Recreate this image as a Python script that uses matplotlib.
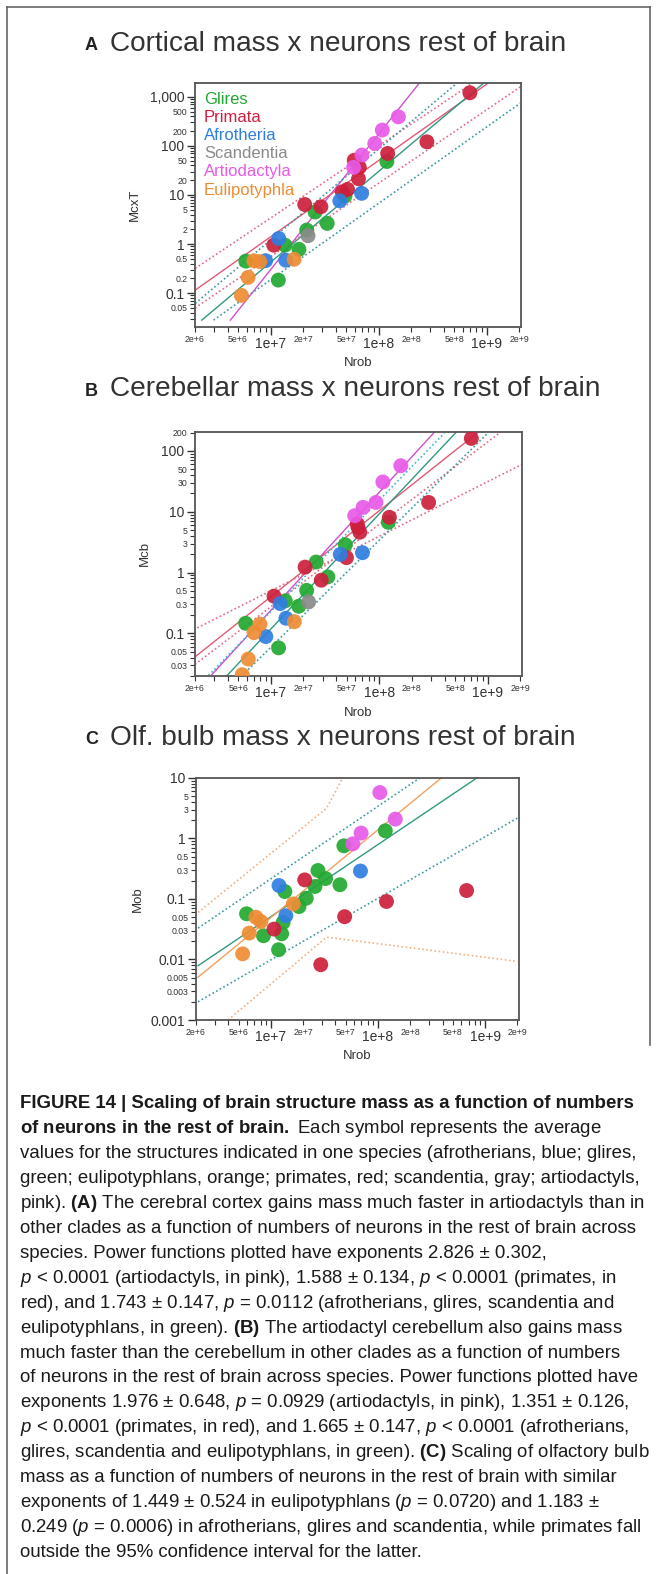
import numpy as np
import matplotlib.pyplot as plt
from matplotlib.lines import Line2D

plt.rcParams['font.family'] = ['Liberation Sans', 'DejaVu Sans']
plt.rcParams['mathtext.fontset'] = 'custom'
plt.rcParams['mathtext.rm'] = 'Liberation Sans'
plt.rcParams['mathtext.it'] = 'Liberation Sans:italic'
plt.rcParams['mathtext.bf'] = 'Liberation Sans:bold'

W, H = 657, 1574

clades = ['Glires', 'Primata', 'Afrotheria', 'Scandentia', 'Artiodactyla', 'Eulipotyphla']
clade_colors = {'Glires': '#22a832', 'Primata': '#cc1f3c', 'Afrotheria': '#2f7ee0',
                'Scandentia': '#8a8a8a', 'Artiodactyla': '#e85ae8', 'Eulipotyphla': '#ee8c34'}

# ---- A: cortical mass (g) vs neurons rest of brain
ctx_nrob = {
    'Glires': [5.9e6, 1.18e7, 1.36e7, 1.83e7, 2.16e7, 2.58e7, 3.34e7, 4.87e7, 1.19e8],
    'Primata': [1.07e7, 2.07e7, 2.92e7, 4.6e7, 5.15e7, 5.94e7, 6.62e7, 6.5e7, 1.21e8, 2.79e8, 6.97e8],
    'Afrotheria': [1.19e7, 9.0e6, 1.38e7, 4.37e7, 6.95e7],
    'Scandentia': [2.22e7],
    'Artiodactyla': [5.86e7, 7.0e7, 9.2e7, 1.08e8, 1.52e8],
    'Eulipotyphla': [5.37e6, 6.2e6, 7.0e6, 7.94e6, 1.65e7],
}
ctx_mass = {
    'Glires': [0.45, 0.185, 0.95, 0.78, 1.93, 4.5, 2.64, 9.5, 48],
    'Primata': [0.95, 6.4, 5.75, 11.6, 13, 51, 36.5, 21.4, 70, 121, 1205],
    'Afrotheria': [1.3, 0.46, 0.47, 7.6, 10.8],
    'Scandentia': [1.48],
    'Artiodactyla': [36.5, 65, 112, 210, 390],
    'Eulipotyphla': [0.09, 0.21, 0.457, 0.44, 0.49],
}
ctx_lines = {
    'pink_fit': ([4.25e6, 2.39e8], [0.0283, 1928]),
    'red_fit': ([2.01e6, 1.03e9], [0.1156, 1900]),
    'green_fit': ([2.31e6, 9.27e8], [0.0283, 1862]),
    'red_ci_hi': ([2.01e6, 7.4e8], [0.32, 1900]),
    'red_ci_lo': ([2.0e6, 2.04e9], [0.05, 1585]),
    'green_ci_hi': ([2.01e6, 5.25e8], [0.062, 1862]),
    'green_ci_lo': ([2.97e6, 2.04e9], [0.0283, 741]),
}

# ---- B: cerebellar mass
cb_nrob = {
    'Glires': [5.86e6, 1.18e7, 1.36e7, 1.81e7, 2.14e7, 2.62e7, 3.36e7, 4.87e7, 1.21e8],
    'Primata': [1.07e7, 2.07e7, 2.92e7, 4.98e7, 6.38e7, 6.62e7, 6.27e7, 1.24e8, 2.85e8, 7.06e8],
    'Afrotheria': [1.22e7, 9.0e6, 1.38e7, 4.37e7, 7.0e7],
    'Scandentia': [2.23e7],
    'Artiodactyla': [5.94e7, 7.1e7, 9.33e7, 1.08e8, 1.58e8],
    'Eulipotyphla': [5.45e6, 6.2e6, 7.0e6, 7.94e6, 1.65e7],
}
cb_mass = {
    'Glires': [0.147, 0.058, 0.344, 0.28, 0.51, 1.49, 0.85, 2.86, 6.7],
    'Primata': [0.41, 1.23, 0.75, 1.76, 5.5, 4.6, 6.3, 8.1, 14.2, 160],
    'Afrotheria': [0.31, 0.089, 0.178, 1.99, 2.12],
    'Scandentia': [0.33],
    'Artiodactyla': [8.6, 11.8, 14.2, 30.8, 57],
    'Eulipotyphla': [0.021, 0.038, 0.103, 0.142, 0.156],
}
cb_lines = {
    'pink_fit': ([2.86e6, 3.18e8], [0.0211, 197]),
    'red_fit': ([1.94e6, 8.1e8], [0.0395, 200]),
    'green_fit': ([3.95e6, 5.05e8], [0.0204, 197]),
    'red_ci_hi': ([1.94e6, 2.07e9], [0.115, 60]),
    'red_ci_lo': ([2.0e6, 1.3e9], [0.031, 200]),
    'cyan_ci': ([2.67e6, 3.98e8], [0.0204, 195]),
    'green_ci_lo': ([5.45e6, 1.0e9], [0.0204, 195]),
}

# ---- C: olfactory bulb mass
ob_nrob = {
    'Glires': [5.93e6, 8.53e6, 1.18e7, 1.26e7, 1.3e7, 1.35e7, 1.83e7, 2.14e7, 2.58e7, 2.75e7, 3.24e7, 4.41e7, 4.8e7, 1.17e8],
    'Primata': [2.07e7, 1.07e7, 2.92e7, 4.88e7, 1.2e8, 6.71e8],
    'Afrotheria': [1.19e7, 1.38e7, 6.86e7],
    'Scandentia': [],
    'Artiodactyla': [1.04e8, 1.45e8, 6.95e7, 5.82e7],
    'Eulipotyphla': [5.45e6, 6.28e6, 7.24e6, 8.07e6, 1.62e7],
}
ob_mass = {
    'Glires': [0.057, 0.0247, 0.0145, 0.0266, 0.041, 0.133, 0.075, 0.103, 0.161, 0.296, 0.218, 0.172, 0.757, 1.34],
    'Primata': [0.207, 0.0318, 0.0082, 0.051, 0.091, 0.138],
    'Afrotheria': [0.167, 0.053, 0.29],
    'Scandentia': [],
    'Artiodactyla': [5.75, 2.09, 1.23, 0.817],
    'Eulipotyphla': [0.0124, 0.0273, 0.05, 0.0425, 0.083],
}
ob_lines = {
    'green_fit': ([2.09e6, 8.32e8], [0.0079, 9.95]),
    'orange_fit': ([2.09e6, 3.89e8], [0.0051, 10.0]),
    'green_ci_hi': ([2.09e6, 2.45e8], [0.033, 10.0]),
    'green_ci_lo': ([2.09e6, 2.0e9], [0.002, 2.17]),
    'orange_ci_hi': ([2.09e6, 3.31e7, 4.68e7], [0.06, 3.16, 10.0]),
    'orange_ci_lo': ([3.98e6, 3.31e7, 2.0e9], [0.001, 0.0234, 0.0093]),
}

line_styles = {
    'pink_fit': dict(color='#cf4fcf', ls='-', lw=1.0),
    'red_fit': dict(color='#e25a74', ls='-', lw=1.0),
    'green_fit': dict(color='#2f9a80', ls='-', lw=1.0),
    'orange_fit': dict(color='#f2a060', ls='-', lw=1.0),
    'red_ci_hi': dict(color='#e06a86', ls=(0, (1, 1.5)), lw=1.2),
    'red_ci_lo': dict(color='#e06a86', ls=(0, (1, 1.5)), lw=1.2),
    'green_ci_hi': dict(color='#3a9aa0', ls=(0, (1, 1.5)), lw=1.2),
    'green_ci_lo': dict(color='#3a9aa0', ls=(0, (1, 1.5)), lw=1.2),
    'cyan_ci': dict(color='#3fb4d6', ls=(0, (1, 1.5)), lw=1.2),
    'orange_ci_hi': dict(color='#f2b084', ls=(0, (1, 1.5)), lw=1.2),
    'orange_ci_lo': dict(color='#f2b084', ls=(0, (1, 1.5)), lw=1.2),
}

x_minor_labels = {2e6: '2e+6', 5e6: '5e+6', 2e7: '2e+7', 5e7: '5e+7',
                  2e8: '2e+8', 5e8: '5e+8', 2e9: '2e+9'}


def fx(px):
    return px / W


def fy(py):
    return 1 - py / H


def setup_axes(ax, ymin, ymax, ymajor, yminor_lab, ylabel, ylab_x):
    ax.set_xscale('log')
    ax.set_yscale('log')
    ax.set_xlim(2e6, 2.07e9)
    ax.set_ylim(ymin, ymax)
    # x ticks
    ax.set_xticks([1e7, 1e8, 1e9], ['1e+7', '1e+8', '1e+9'])
    xm = [m * 10 ** e for e in range(6, 10) for m in range(2, 10) if 2e6 <= m * 10 ** e <= 2.07e9]
    ax.set_xticks(xm, [x_minor_labels.get(v, '') for v in xm], minor=True)
    # y ticks
    ax.set_yticks(ymajor, [f'{v:,g}' for v in ymajor])
    e0, e1 = int(np.floor(np.log10(ymin))), int(np.ceil(np.log10(ymax)))
    ym = [m * 10.0 ** e for e in range(e0, e1 + 1) for m in range(2, 10)
          if ymin * 0.999 <= m * 10.0 ** e <= ymax * 1.001]
    labs = []
    for v in ym:
        lab = ''
        for t in yminor_lab:
            if abs(v - t) / t < 1e-6:
                lab = f'{t:,g}'
        labs.append(lab)
    ax.set_yticks(ym, labs, minor=True)
    ax.tick_params(which='major', direction='out', length=6, width=1.0, labelsize=10,
                   colors='#333333', pad=1.5)
    ax.tick_params(which='minor', direction='out', length=3.5, width=0.8, labelsize=6.3,
                   colors='#333333', pad=2)
    for sp in ax.spines.values():
        sp.set_color('#555555')
        sp.set_linewidth(1.3)
    ax.set_xlabel('Nrob', fontsize=9.5, color='#333333')
    ax.xaxis.set_label_coords(0.5, -0.125)
    ax.set_ylabel(ylabel, fontsize=9.5, color='#333333')
    ax.yaxis.set_label_coords(ylab_x, 0.5)


def draw_panel(ax, nrob, mass, lines):
    for name, (xs, ys) in lines.items():
        ax.plot(xs, ys, zorder=2, **line_styles[name])
    for c in clades:
        if nrob[c]:
            ax.scatter(nrob[c], mass[c], s=115, color=clade_colors[c], edgecolors='none',
                       alpha=0.92, zorder=3)


fig = plt.figure(figsize=(W / 100, H / 100), dpi=100)

axA = fig.add_axes([fx(195), fy(327), fx(521) - fx(195), (327 - 83) / H])
draw_panel(axA, ctx_nrob, ctx_mass, ctx_lines)
setup_axes(axA, 0.0205, 1905, [0.1, 1, 10, 100, 1000],
           [0.05, 0.2, 0.5, 2, 5, 20, 50, 200, 500, 2000], 'McxT', -0.165)

axB = fig.add_axes([fx(195), fy(676), fx(522) - fx(195), (676 - 432) / H])
draw_panel(axB, cb_nrob, cb_mass, cb_lines)
setup_axes(axB, 0.02, 204, [0.1, 1, 10, 100],
           [0.03, 0.05, 0.3, 0.5, 3, 5, 30, 50, 200], 'Mcb', -0.135)

axC = fig.add_axes([fx(196), fy(1020), fx(519) - fx(196), (1020 - 778) / H])
draw_panel(axC, ob_nrob, ob_mass, ob_lines)
setup_axes(axC, 0.001, 10, [0.001, 0.01, 0.1, 1, 10],
           [0.003, 0.005, 0.03, 0.05, 0.3, 0.5, 3, 5], 'Mob', -0.16)

# legend in panel A
for i, c in enumerate(clades):
    fig.text(fx(204), fy(99.5 + i * 18.1), c, fontsize=12, color=clade_colors[c],
             va='center', ha='left')

# panel titles
titles = [('A', 'Cortical mass x neurons rest of brain', 44),
          ('B', 'Cerebellar mass x neurons rest of brain', 389),
          ('C', 'Olf. bulb mass x neurons rest of brain', 738)]
for letter, t, yy in titles:
    fig.text(fx(85), fy(yy + 2), letter, fontsize=13, fontweight='bold', color='#222222',
             va='center', ha='left')
    fig.text(fx(110), fy(yy), t, fontsize=20.2, color='#333333', va='center', ha='left')


def bold(s):
    return r'$\mathbf{' + s.replace(' ', r'\ ') + '}$'


caption = [
    'FIGURE 14 | Scaling of brain structure mass as a function of numbers',
    bold('of neurons in the rest of brain.') + ' Each symbol represents the average',
    'values for the structures indicated in one species (afrotherians, blue; glires,',
    'green; eulipotyphlans, orange; primates, red; scandentia, gray; artiodactyls,',
    'pink). ' + bold('(A)') + ' The cerebral cortex gains mass much faster in artiodactyls than in',
    'other clades as a function of numbers of neurons in the rest of brain across',
    'species. Power functions plotted have exponents 2.826 ± 0.302,',
    '$p$ < 0.0001 (artiodactyls, in pink), 1.588 ± 0.134, $p$ < 0.0001 (primates, in',
    'red), and 1.743 ± 0.147, $p$ = 0.0112 (afrotherians, glires, scandentia and',
    'eulipotyphlans, in green). ' + bold('(B)') + ' The artiodactyl cerebellum also gains mass',
    'much faster than the cerebellum in other clades as a function of numbers',
    'of neurons in the rest of brain across species. Power functions plotted have',
    'exponents 1.976 ± 0.648, $p$ = 0.0929 (artiodactyls, in pink), 1.351 ± 0.126,',
    '$p$ < 0.0001 (primates, in red), and 1.665 ± 0.147, $p$ < 0.0001 (afrotherians,',
    'glires, scandentia and eulipotyphlans, in green). ' + bold('(C)') + ' Scaling of olfactory bulb',
    'mass as a function of numbers of neurons in the rest of brain with similar',
    'exponents of 1.449 ± 0.524 in eulipotyphlans ($p$ = 0.0720) and 1.183 ±',
    '0.249 ($p$ = 0.0006) in afrotherians, glires and scandentia, while primates fall',
    'outside the 95% confidence interval for the latter.',
]
cap_texts = []
for i, line in enumerate(caption):
    t = fig.text(fx(20), fy(1104 + i * 24.9), line, fontsize=14, color='#1a1a1a',
                 va='center', ha='left',
                 fontweight='bold' if i == 0 else 'normal')
    cap_texts.append(t)

# fit the caption to the column width (the original uses a condensed face)
fig.canvas.draw()
rend = fig.canvas.get_renderer()
w_ref = cap_texts[5].get_window_extent(rend).width
scale = 623 / w_ref
for t in cap_texts[1:]:
    t.set_fontsize(14 * scale)
w0 = cap_texts[0].get_window_extent(rend).width
cap_texts[0].set_fontsize(14 * 620 / w0)

# frame around the figure
frame_kw = dict(color='#666666', lw=1.2, transform=fig.transFigure)
fig.add_artist(Line2D([fx(7), fx(7)], [fy(7), 0], **frame_kw))
fig.add_artist(Line2D([fx(7), fx(650)], [fy(7), fy(7)], **frame_kw))
fig.add_artist(Line2D([fx(650), fx(650)], [fy(7), fy(1045)], **frame_kw))

fig.savefig('out.png', dpi=100)
